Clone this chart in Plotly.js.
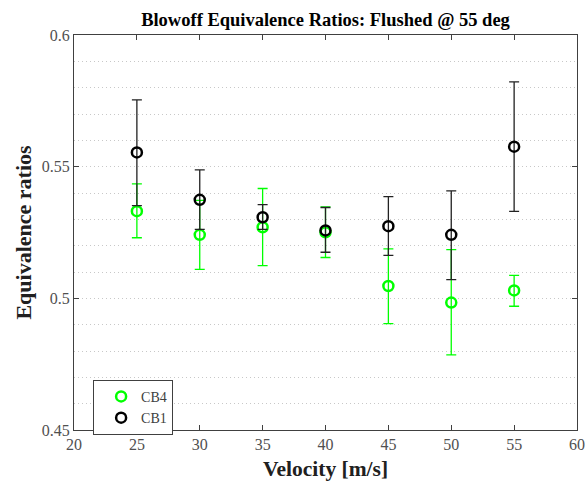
<!DOCTYPE html>
<html>
<head>
<meta charset="utf-8">
<script src="https://cdn.plot.ly/plotly-3.0.1.min.js"></script>
<style>html,body{margin:0;padding:0;background:#fff;} #chart{width:585px;height:487px;}</style>
</head>
<body>
<div id="chart"></div>
<script>
// Data
const velocity = [25, 30, 35, 40, 45, 50, 55];

const cb4Mean  = [0.5331, 0.5241, 0.5270, 0.5251, 0.5047, 0.4984, 0.5030];
const cb4Upper = [0.5435, 0.5372, 0.5417, 0.5347, 0.5188, 0.5185, 0.5087];
const cb4Lower = [0.5230, 0.5110, 0.5124, 0.5155, 0.4904, 0.4785, 0.4970];

const cb1Mean  = [0.5554, 0.5374, 0.5308, 0.5258, 0.5274, 0.5241, 0.5576];
const cb1Upper = [0.5754, 0.5488, 0.5356, 0.5345, 0.5386, 0.5408, 0.5822];
const cb1Lower = [0.5352, 0.5262, 0.5262, 0.5175, 0.5163, 0.5071, 0.5330];

const seriesNames = ['CB4', 'CB1'];
const xTicks = [20, 25, 30, 35, 40, 45, 50, 55, 60];
const yTicks = [0.45, 0.5, 0.55, 0.6];
const yTickText = ['0.45', '0.5', '0.55', '0.6'];

function errs(mean, up, lo) {
  return {
    plus: up.map((u, i) => u - mean[i]),
    minus: lo.map((l, i) => mean[i] - l)
  };
}
const e4 = errs(cb4Mean, cb4Upper, cb4Lower);
const e1 = errs(cb1Mean, cb1Upper, cb1Lower);

const serif = 'Liberation Serif, Times New Roman, serif';

const traces = [
  {
    x: velocity, y: cb4Mean, name: seriesNames[0], type: 'scatter', mode: 'markers',
    marker: {symbol: 'circle-open', size: 10, color: '#00ff00', line: {width: 2.5, color: '#00ff00'}},
    error_y: {type: 'data', symmetric: false, array: e4.plus, arrayminus: e4.minus,
              color: '#00ff00', thickness: 1.3, width: 5}
  },
  {
    x: velocity, y: cb1Mean, name: seriesNames[1], type: 'scatter', mode: 'markers',
    marker: {symbol: 'circle-open', size: 10, color: '#000000', line: {width: 2.5, color: '#000000'}},
    error_y: {type: 'data', symmetric: false, array: e1.plus, arrayminus: e1.minus,
              color: '#222222', thickness: 1.3, width: 5}
  }
];

const layout = {
  width: 585, height: 487,
  margin: {l: 74, r: 8, t: 35, b: 57},
  paper_bgcolor: '#ffffff', plot_bgcolor: '#ffffff',
  font: {family: serif, size: 16, color: '#505050'},
  title: {
    text: '<b>Blowoff Equivalence Ratios: Flushed @ 55 deg</b>',
    font: {family: serif, size: 18.5, color: '#000000'},
    x: 0.5, xref: 'paper', xanchor: 'center',
    y: 1 - 20/487, yref: 'container', yanchor: 'middle'
  },
  xaxis: {
    range: [20, 60], tickvals: xTicks, ticktext: xTicks.map(String),
    ticks: 'inside', ticklen: 5, tickcolor: '#404040', tickwidth: 1,
    showline: true, linecolor: '#404040', linewidth: 1, mirror: 'allticks',
    showgrid: false, zeroline: false,
    tickfont: {family: serif, size: 16, color: '#505050'},
    title: {text: '<b>Velocity [m/s]</b>', font: {family: serif, size: 21.5, color: '#202020'}, standoff: 8}
  },
  yaxis: {
    range: [0.45, 0.6], tickvals: yTicks, ticktext: yTickText,
    ticks: 'inside', ticklen: 5, tickcolor: '#404040', tickwidth: 1,
    showline: true, linecolor: '#404040', linewidth: 1, mirror: 'allticks',
    showgrid: true, gridcolor: '#c8c8c8', griddash: '1px,3px', gridwidth: 1,
    minor: {dtick: 0.01, showgrid: true, gridcolor: '#c8c8c8', griddash: '1px,3px', gridwidth: 1, ticks: ''},
    zeroline: false,
    tickfont: {family: serif, size: 16, color: '#505050'},
    title: {text: '<b>Equivalence ratios</b>', font: {family: serif, size: 22, color: '#202020'}, standoff: 4}
  },
  showlegend: true,
  legend: {
    x: 0.038, y: 0.127, xanchor: 'left', yanchor: 'top',
    bgcolor: '#ffffff', bordercolor: '#404040', borderwidth: 1,
    font: {family: serif, size: 14, color: '#404040'},
    tracegroupgap: 0, itemwidth: 30, indentation: 7
  }
};

Plotly.newPlot('chart', traces, layout, {displayModeBar: false, staticPlot: true});
</script>
</body>
</html>
